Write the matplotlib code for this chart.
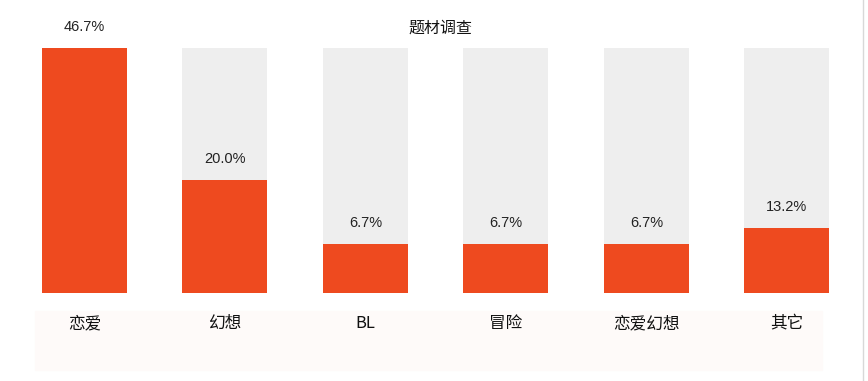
import matplotlib.pyplot as plt
from matplotlib.patches import Rectangle

plt.rcParams['font.family'] = ['Noto Sans CJK SC', 'DejaVu Sans']

categories = ['恋爱', '幻想', 'BL', '冒险', '恋爱幻想', '其它']
labels = ['46.7%', '20.0%', '6.7%', '6.7%', '6.7%', '13.2%']
# bar heights as drawn in the picture (the picture does not scale them linearly)
heights = [46.7, 21.5, 9.3, 9.3, 9.3, 12.4]
full = 46.7

fig = plt.figure(figsize=(8.68, 3.81), dpi=100)
ax = fig.add_axes([0, 0, 1, 1])
ax.set_xlim(-0.601, 5.577)
ax.set_ylim(-16.77, 55.85)
ax.axis('off')

# faint pink band behind the category names
ax.add_patch(Rectangle((-0.35, -14.7), 5.6, 11.3, color='#fefaf9', zorder=0))

x = range(len(categories))
ax.bar(x, [full] * len(categories), width=0.605, color='#eeeeee', zorder=1)
ax.bar(x, heights, width=0.605, color='#ee4a1f', zorder=2)

for i, (h, lab) in enumerate(zip(heights, labels)):
    ax.text(i, h + 4.0, lab, ha='center', va='center', fontsize=10.5,
            family='Liberation Sans', color='#222222')
    ax.text(i, -5.8, categories[i], ha='center', va='center', fontsize=12,
            fontweight='medium', color='#111111')

fig.text(0.508, 1 - 28 / 381, '题材调查', ha='center', va='center',
         fontsize=11.5, fontweight='medium', color='#111111')

# thin border line at the right edge of the screenshot
fig.add_artist(plt.Line2D([863 / 868, 863 / 868], [0, 1], color='#d8d8d8', lw=1))

fig.savefig('out.png', dpi=100)
